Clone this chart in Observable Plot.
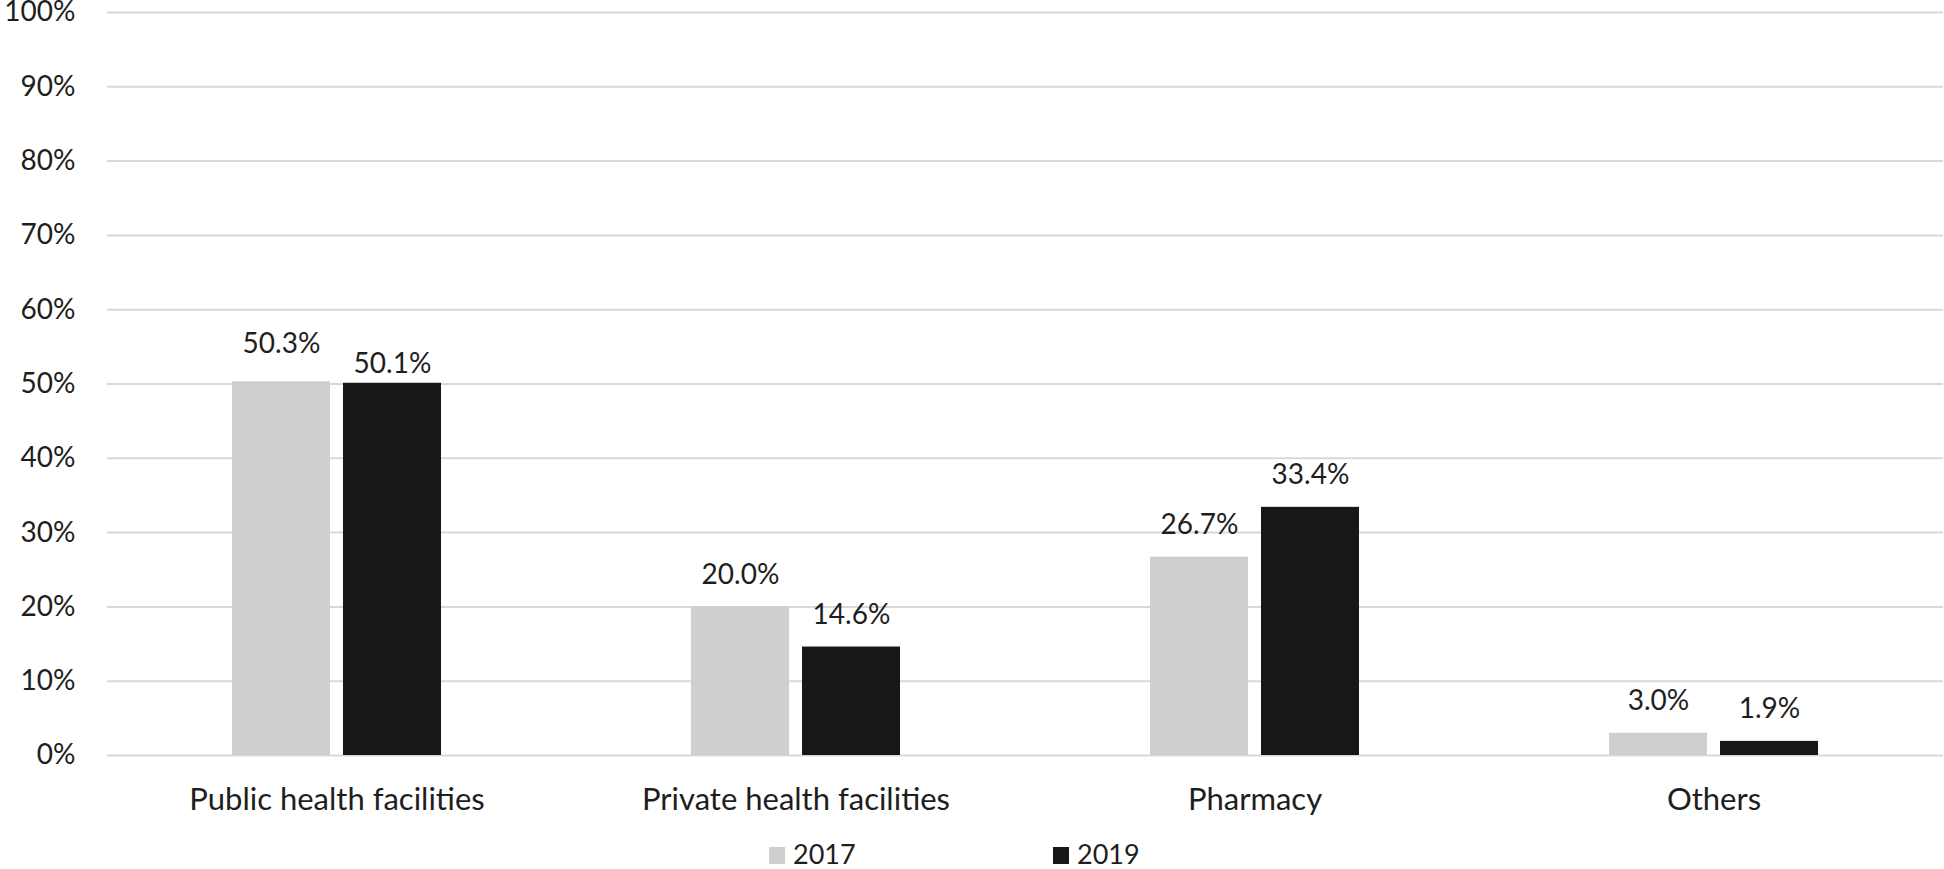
<!DOCTYPE html>
<html>
<head>
<meta charset="utf-8">
<script src="https://cdn.jsdelivr.net/npm/d3@7"></script>
<script src="https://cdn.jsdelivr.net/npm/@observablehq/plot@0.6"></script>
<style>
  html, body { margin: 0; padding: 0; background: #fff; }
  body { width: 1944px; height: 869px; overflow: hidden; font-family: Lato, "Open Sans", sans-serif; color: #1e1e1e; }
  #chart svg { display: block; }
  #legend { position: relative; height: 39px; font-size: 27px; }
  .item { position: absolute; top: 0; display: flex; align-items: center; height: 39px; }
  .sw { width: 16px; height: 17px; margin-right: 8px; margin-top: 12px; }
  .lab { margin-top: 8px; }
</style>
</head>
<body>
<div id="chart"></div>
<div id="legend"></div>
<script>
const categories = ["Public health facilities", "Private health facilities", "Pharmacy", "Others"];
const years = ["2017", "2019"];
const values2017 = [50.3, 20.0, 26.7, 3.0];
const values2019 = [50.1, 14.6, 33.4, 1.9];
const yTicks = [0, 10, 20, 30, 40, 50, 60, 70, 80, 90, 100];
const colors = ["#d0cfcd", "#171717"];

const data = [];
categories.forEach((c, i) => {
  data.push({category: c, year: years[0], value: values2017[i]});
  data.push({category: c, year: years[1], value: values2019[i]});
});
const fmt = d => d.value.toFixed(1) + "%";
const isPublic = d => d.category === categories[0];

const plot = Plot.plot({
  width: 1944,
  height: 830,
  marginTop: 12,
  marginBottom: 75,
  marginLeft: 105,
  marginRight: 0,
  style: {fontFamily: "Lato, 'Open Sans', sans-serif", fontSize: "28px", color: "#1e1e1e", background: "#fff"},
  fx: {domain: categories, padding: 0, axis: null},
  x: {domain: years, paddingInner: 0.117, paddingOuter: 1.126, axis: null},
  y: {domain: [0, 100], axis: null},
  color: {domain: years, range: colors},
  marks: [
    Plot.gridY(yTicks, {stroke: "#d9d9d9", strokeOpacity: 1, strokeWidth: 2}),
    Plot.axisY(yTicks, {tickSize: 0, tickPadding: 32, tickFormat: d => d + "%", fontSize: 28, label: null}),
    Plot.axisFx({anchor: "bottom", tickSize: 0, tickPadding: 32, fontSize: 31, label: null}),
    Plot.barY(data, {fx: "category", x: "year", y: "value", fill: "year"}),
    Plot.text(data.filter(d => !isPublic(d)), {fx: "category", x: "year", y: "value", text: fmt, dy: -32, fontSize: 28, fill: "#1e1e1e"}),
    Plot.text(data.filter(d => isPublic(d) && d.year === years[0]), {fx: "category", x: "year", y: "value", text: fmt, dy: -38, fontSize: 28, fill: "#1e1e1e"}),
    Plot.text(data.filter(d => isPublic(d) && d.year === years[1]), {fx: "category", x: "year", y: "value", text: fmt, dy: -19, fontSize: 28, fill: "#1e1e1e"})
  ]
});
document.getElementById("chart").appendChild(plot);

const legend = document.getElementById("legend");
const legendLeft = [769, 1053];
years.forEach((y, i) => {
  const item = document.createElement("div");
  item.className = "item";
  item.style.left = legendLeft[i] + "px";
  const sw = document.createElement("div");
  sw.className = "sw";
  sw.style.background = colors[i];
  const lab = document.createElement("span");
  lab.className = "lab";
  lab.textContent = y;
  item.appendChild(sw);
  item.appendChild(lab);
  legend.appendChild(item);
});
</script>
</body>
</html>
